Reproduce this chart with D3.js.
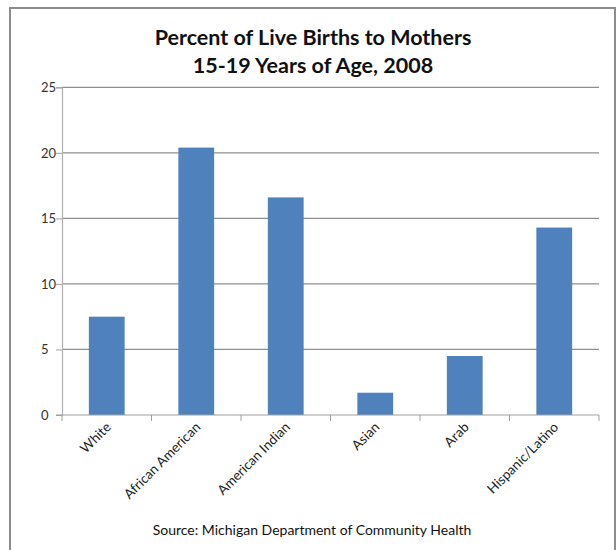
<!DOCTYPE html>
<html><head><meta charset="utf-8">
<script src="https://cdn.jsdelivr.net/npm/d3@7"></script>
<style>body{margin:0;background:#fff}svg{display:block}text{font-family:Lato,"Open Sans",sans-serif}</style>
</head><body><svg id="c" width="616" height="550"></svg>
<script>
const categories = ["White","African American","American Indian","Asian","Arab","Hispanic/Latino"];
const values = [7.5,20.4,16.6,1.7,4.5,14.3];
const yTicks = [0,5,10,15,20,25];
const titleLines = ["Percent of Live Births to Mothers","15-19 Years of Age, 2008"];
const source = "Source: Michigan Department of Community Health";

const svg = d3.select("#c");
svg.append("rect").attr("x",0).attr("y",0).attr("width",616).attr("height",550).attr("fill","#fff");
// frame
svg.append("path").attr("d","M10,560 L10,8 L615,8 L615,560").attr("fill","none").attr("stroke","#8c8c8c").attr("stroke-width",2);

const x0=62,x1=599,yTop=87.3,yBot=415;
const x = d3.scaleBand().domain(categories).range([x0,x1]).paddingInner(0.6).paddingOuter(0.3);
const y = d3.scaleLinear().domain([0,25]).range([yBot,yTop]);

// gridlines
svg.append("g").selectAll("line").data(yTicks.filter(d=>d>0)).join("line")
  .attr("x1",x0).attr("x2",x1).attr("y1",d=>y(d)).attr("y2",d=>y(d))
  .attr("stroke","#8f8f8f").attr("stroke-width",1.2);

// bars
svg.append("g").selectAll("rect").data(values).join("rect")
  .attr("x",(d,i)=>x(categories[i])).attr("width",x.bandwidth())
  .attr("y",d=>y(d)).attr("height",d=>y(0)-y(d)).attr("fill","#4F81BD");

// y axis
const yAxis = d3.axisLeft(y).tickValues(yTicks).tickSize(6).tickPadding(5);
const gy = svg.append("g").attr("transform",`translate(${x0},0)`).call(yAxis);
gy.select(".domain").attr("stroke","#b0b0b0").attr("stroke-width",1.2);
gy.selectAll(".tick line").attr("stroke","#a0a0a0");
gy.selectAll("text").attr("font-size",13).attr("fill","#333").attr("text-anchor","start").attr("x",-21);

// x axis
const xb = d3.scaleLinear().domain([0,categories.length]).range([x0,x1]);
const gx = svg.append("g").attr("transform",`translate(0,${yBot})`);
gx.append("line").attr("x1",x0-6).attr("x2",x1).attr("stroke","#a0a0a0").attr("stroke-width",1.2);
gx.selectAll(".tk").data(d3.range(categories.length+1)).join("line").attr("class","tk")
  .attr("x1",d=>xb(d)).attr("x2",d=>xb(d)).attr("y1",0).attr("y2",6).attr("stroke","#a0a0a0");
gx.selectAll("text").data(categories).join("text")
  .attr("transform",(d)=>`translate(${x(d)+x.bandwidth()/2+5},13) rotate(-45)`)
  .attr("text-anchor","end").attr("font-size",13.5).attr("fill","#222").text(d=>d);

// title
svg.append("g").selectAll("text").data(titleLines).join("text")
  .attr("x",313).attr("y",(d,i)=>45+i*28).attr("text-anchor","middle")
  .attr("font-size",21.5).attr("font-weight","bold").attr("fill","#111").text(d=>d);

svg.append("text").attr("x",312).attr("y",535).attr("text-anchor","middle")
  .attr("font-size",14).attr("fill","#111").text(source);
</script></body></html>
